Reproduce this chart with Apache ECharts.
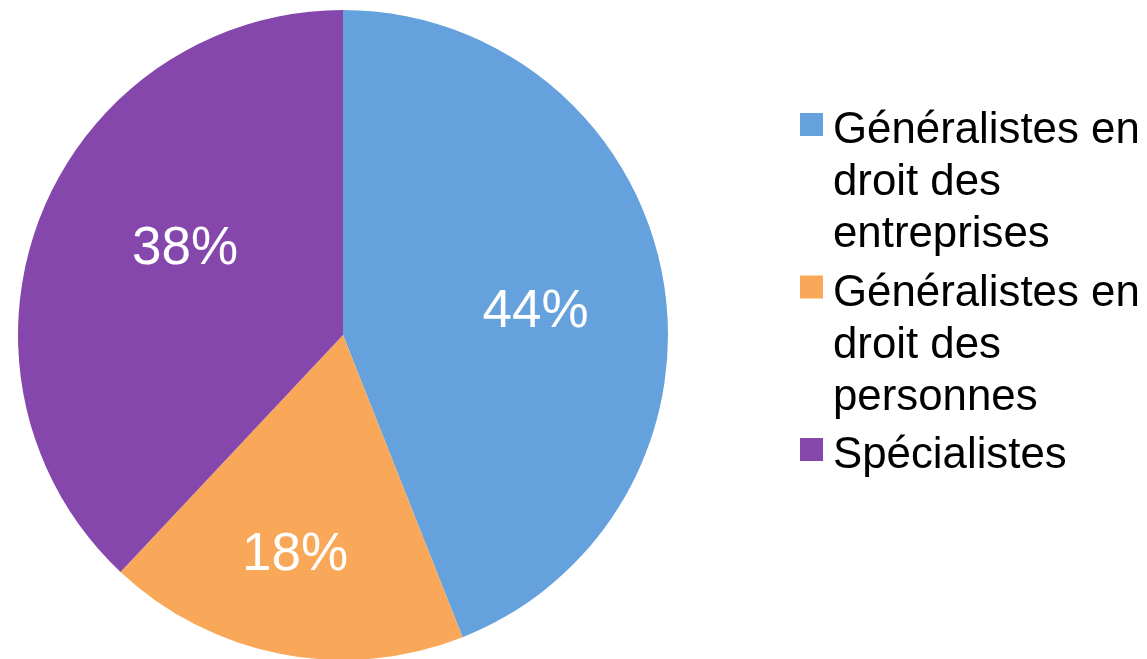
<!DOCTYPE html>
<html>
<head>
<meta charset="utf-8">
<script src="https://cdn.jsdelivr.net/npm/echarts@6/dist/echarts.min.js"></script>
<style>
html,body{margin:0;padding:0;background:#fff;}
#chart{width:1147px;height:659px;}
</style>
</head>
<body>
<div id="chart"></div>
<script>
var categories = ['Généralistes en droit des entreprises', 'Généralistes en droit des personnes', 'Spécialistes'];
var legendLabels = ['Généralistes en\ndroit des\nentreprises', 'Généralistes en\ndroit des\npersonnes', 'Spécialistes'];
var values = [44, 18, 38];
var colors = ['#65A1DC', '#F8A858', '#8547AB'];

(function () {
  var labelOffsets = [[30, 8], [-17, 58], [-4, -25]];

  var chart = echarts.init(document.getElementById('chart'), null, {renderer: 'canvas'});

  var pieData = categories.map(function (c, i) {
    return {
      name: c,
      value: values[i],
      itemStyle: {color: colors[i]},
      label: {offset: labelOffsets[i]}
    };
  });

  var graphics = [];
  var yPos = 105;
  var lineH = 52;
  legendLabels.forEach(function (lab, i) {
    var nLines = lab.split('\n').length;
    graphics.push({
      type: 'rect',
      x: 800,
      y: yPos + 8,
      shape: {x: 0, y: 0, width: 23, height: 23},
      style: {fill: colors[i]}
    });
    graphics.push({
      type: 'text',
      x: 833,
      y: yPos,
      style: {
        text: lab,
        fill: '#000',
        font: '43.8px "Liberation Sans", Arial, sans-serif',
        lineHeight: lineH,
        verticalAlign: 'top'
      }
    });
    yPos += nLines * lineH + 6.5;
  });

  chart.setOption({
    animation: false,
    backgroundColor: '#fff',
    graphic: {elements: graphics},
    series: [{
      type: 'pie',
      center: [343, 335],
      radius: 325,
      startAngle: 90,
      clockwise: true,
      avoidLabelOverlap: false,
      label: {
        show: true,
        position: 'inside',
        formatter: function (p) { return p.value + '%'; },
        color: '#fff',
        fontFamily: '"Liberation Sans", Arial, sans-serif',
        fontSize: 53
      },
      labelLine: {show: false},
      emphasis: {disabled: true},
      itemStyle: {borderWidth: 0},
      data: pieData
    }]
  });
})();
</script>
</body>
</html>
